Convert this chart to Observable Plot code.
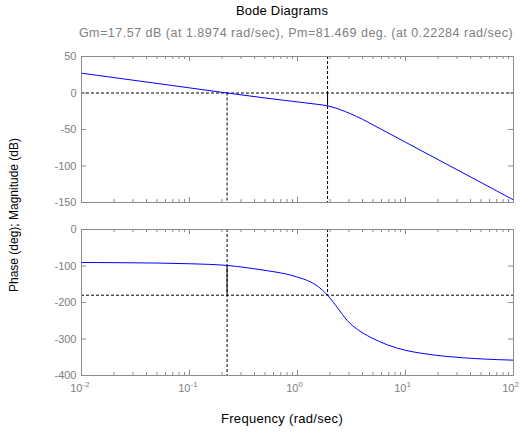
<!DOCTYPE html>
<html>
<head>
<meta charset="utf-8">
<script src="https://cdn.jsdelivr.net/npm/d3@7"></script>
<script src="https://cdn.jsdelivr.net/npm/@observablehq/plot@0.6"></script>
<style>
  html, body { margin: 0; padding: 0; background: #fff; }
  #wrap { position: relative; width: 521px; height: 434px; overflow: hidden; font-family: "Liberation Sans", Arial, sans-serif; }
  .abs { position: absolute; white-space: nowrap; }
  svg { position: absolute; left: 0; }
</style>
</head>
<body>
<div id="wrap">
  <div class="abs" id="title" style="left:0;width:564px;top:3px;text-align:center;font-size:13px;line-height:15px;letter-spacing:0.2px;color:#000;">Bode Diagrams</div>
  <div class="abs" id="subtitle" style="left:0;width:592px;top:26px;text-align:center;font-size:12.5px;line-height:14px;letter-spacing:0.5px;color:#808080;"></div>
  <div class="abs" id="xlabel" style="left:0;width:564px;top:411px;text-align:center;font-size:13px;line-height:15px;letter-spacing:0.3px;color:#000;">Frequency (rad/sec)</div>
  <div class="abs" id="ylabel" style="left:-136px;width:300px;top:208px;text-align:center;font-size:12px;line-height:14px;color:#000;transform:rotate(-90deg);transform-origin:150px 7px;">Phase (deg); Magnitude (dB)</div>
</div>
<script>
// ---- data ----
const magFreq = [0.01, 0.02, 0.05, 0.1, 0.2228, 0.5, 0.867, 1, 1.5, 1.897, 2.5, 3.1, 4, 5, 6, 7.3, 10, 14, 20, 30, 50, 70, 100];
const magDb   = [27.1, 21.1, 13.1, 7.0, 0, -6.8, -11.1, -12.2, -15.4, -17.57, -22.9, -28.5, -36, -43.7, -49.9, -56.6, -67.4, -79, -91.2, -105.1, -122.6, -134.2, -146.4];
const phaseFreq = [0.01, 0.02, 0.05, 0.1, 0.2228, 0.5, 0.7, 0.867, 1, 1.24, 1.53, 1.897, 2.34, 2.9, 3.6, 4.8, 6.8, 10, 14, 23.6, 50, 100];
const phaseDeg  = [-90.4, -90.8, -91.9, -93.8, -98.5, -112, -119, -125, -130.5, -140, -155, -180, -214, -250, -274, -296, -316, -331, -339, -347.5, -354.5, -358];

const gmDb = 17.57, wcg = 1.8974, pmDeg = 81.469, wcp = 0.22284;
const subtitleText = "Gm=17.57 dB (at 1.8974 rad/sec), Pm=81.469 deg. (at 0.22284 rad/sec)";

const xMajor = [0.01, 0.1, 1, 10, 100];
const xExp = ["-2", "-1", "0", "1", "2"];
const magTicks = [50, 0, -50, -100, -150];
const phaseTicks = [0, -100, -200, -300, -400];

document.getElementById("subtitle").textContent = subtitleText;

const xMinor = [];
for (let i = 0; i < xMajor.length - 1; i++) for (let k = 2; k <= 9; k++) xMinor.push(xMajor[i] * k);

const W = 521, mL = 81, mR = 8;
const frameW = W - mL - mR;
const axisGray = "#8c8c8c", labelGray = "#808080";
const dash = "3,2";
const fontFam = "Liberation Sans, Arial, sans-serif";

function boxTicks(frameH, yTicks) {
  return [
    Plot.ruleX(xMajor, {x: d => d, insetTop: frameH - 5, stroke: axisGray}),
    Plot.ruleX(xMajor, {x: d => d, insetBottom: frameH - 5, stroke: axisGray}),
    Plot.ruleX(xMinor, {x: d => d, insetTop: frameH - 3, stroke: axisGray}),
    Plot.ruleX(xMinor, {x: d => d, insetBottom: frameH - 3, stroke: axisGray}),
    Plot.ruleY(yTicks, {y: d => d, insetRight: frameW - 5, stroke: axisGray}),
    Plot.ruleY(yTicks, {y: d => d, insetLeft: frameW - 5, stroke: axisGray}),
    Plot.text(yTicks, {y: d => d, text: d => String(d), frameAnchor: "left", textAnchor: "end", dx: -5, fill: labelGray, fontSize: 11}),
    Plot.frame({stroke: axisGray})
  ];
}

// ---- magnitude ----
const magData = magFreq.map((f, i) => ({f, v: magDb[i]}));
const topH = 205, topMT = 56, topMB = 3;
const magPlot = Plot.plot({
  width: W, height: topH, marginLeft: mL, marginRight: mR, marginTop: topMT, marginBottom: topMB,
  style: {fontFamily: fontFam, background: "transparent", overflow: "visible"},
  x: {type: "log", domain: [0.01, 100], axis: null},
  y: {domain: [-150, 50], axis: null},
  marks: [
    Plot.ruleY([0], {y: d => d, stroke: "black", strokeDasharray: dash}),
    Plot.ruleX([wcp], {x: d => d, y1: 0, y2: -150, stroke: "black", strokeDasharray: dash}),
    Plot.ruleX([wcg], {x: d => d, y1: 50, y2: -150, stroke: "black", strokeDasharray: dash}),
    Plot.ruleX([wcg], {x: d => d, y1: 0, y2: -gmDb, stroke: "black"}),
    Plot.line(magData, {x: "f", y: "v", stroke: "#0000ff", strokeWidth: 1, curve: "monotone-x"}),
    ...boxTicks(topH - topMT - topMB, magTicks)
  ]
});
magPlot.style.top = "0px";

// ---- phase ----
const phData = phaseFreq.map((f, i) => ({f, v: phaseDeg[i]}));
const botH = 229, botMT = 24, botMB = 59;
const phasePlot = Plot.plot({
  width: W, height: botH, marginLeft: mL, marginRight: mR, marginTop: botMT, marginBottom: botMB,
  style: {fontFamily: fontFam, background: "transparent", overflow: "visible"},
  x: {type: "log", domain: [0.01, 100], axis: null},
  y: {domain: [-400, 0], axis: null},
  marks: [
    Plot.ruleY([-180], {y: d => d, stroke: "black", strokeDasharray: dash}),
    Plot.ruleX([wcp], {x: d => d, y1: 0, y2: -400, stroke: "black", strokeDasharray: dash}),
    Plot.ruleX([wcp], {x: d => d, y1: -180, y2: -180 + pmDeg, stroke: "black"}),
    Plot.ruleX([wcg], {x: d => d, y1: 0, y2: -180, stroke: "black", strokeDasharray: dash}),
    Plot.line(phData, {x: "f", y: "v", stroke: "#0000ff", strokeWidth: 1, curve: "monotone-x"}),
    ...boxTicks(botH - botMT - botMB, phaseTicks),
    Plot.text(xMajor, {x: d => d, text: () => "10", frameAnchor: "bottom", textAnchor: "end", dx: 1, dy: 16, fill: labelGray, fontSize: 11}),
    Plot.text(xMajor, {x: d => d, text: (d, i) => xExp[i], frameAnchor: "bottom", textAnchor: "start", dx: 1, dy: 11, fill: labelGray, fontSize: 8})
  ]
});
phasePlot.style.top = "205px";

const wrap = document.getElementById("wrap");
wrap.appendChild(magPlot);
wrap.appendChild(phasePlot);
</script>
</body>
</html>
